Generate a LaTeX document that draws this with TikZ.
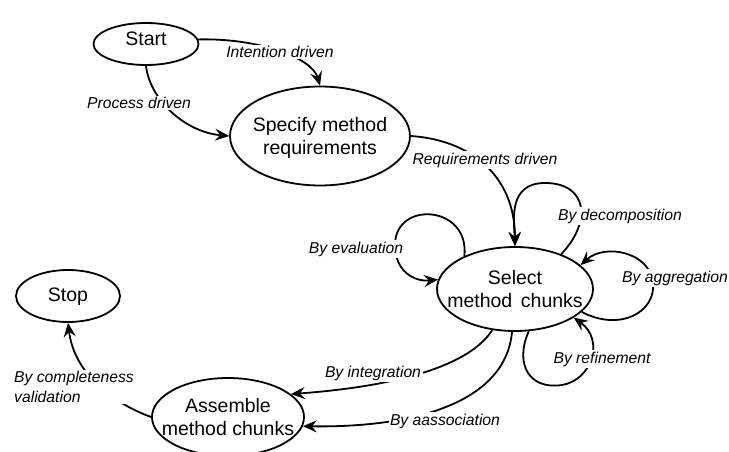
\documentclass[tikz,border=0pt]{standalone}
\usepackage{fontspec}
\setmainfont{Liberation Sans}
\usetikzlibrary{shapes.geometric,arrows.meta}
\begin{document}
\begin{tikzpicture}[x=1pt,y=-1pt,
  state/.style={draw, ellipse, line width=1.8pt, inner sep=0pt},
  stxt/.style={font=\fontsize{19.5}{22.5}\selectfont, align=center, inner sep=0pt},
  lbl/.style={font=\fontsize{15.7}{20}\selectfont\itshape, fill=white, inner sep=1.5pt},
  conn/.style={line width=1.8pt, -{Stealth[length=14pt,width=12pt,inset=5pt]}}
]
\useasboundingbox (0,0) rectangle (729,452);
\fill[white] (0,0) rectangle (729,452);

% states
\node[state, minimum width=105pt, minimum height=42pt] (start) at (146,44) {};
\node[stxt] (start-t) at (146,39) {Start};
\node[state, minimum width=180pt, minimum height=99pt] (spec) at (320,136) {};
\node[stxt] (spec-t) at (320,138) {Specify method\\requirements};
\node[state, minimum width=156pt, minimum height=84pt] (sel) at (515,289) {};
\node[stxt] (sel-t) at (515,289) {Select\\method\ \,chunks};
\node[state, minimum width=104pt, minimum height=52pt] (stop) at (68,296) {};
\node[stxt] (stop-t) at (68,297) {Stop};
\node[state, minimum width=152pt, minimum height=78pt] (assem) at (228,417) {};
\node[stxt] (assem-t) at (228,417) {Assemble\\method chunks};

% connectors
\draw[conn] (start.5) .. controls (260,38) and (312,58) .. (spec.north);
\draw[conn] (start.south) .. controls (150,100) and (185,132) .. (spec.west);
\draw[conn] (spec.east) .. controls (470,140) and (515,175) .. (sel.north);
\draw[conn] (sel.37) .. controls (592,222) and (588,183) .. (545,183)
            .. controls (508,183) and (514,220) .. (sel.north);
\draw[conn] (sel.147) .. controls (470,205) and (395,200) .. (395,245)
            .. controls (395,272) and (415,282) .. (sel.173);
\draw[conn] (sel.-19) .. controls (620,332) and (656,312) .. (653,283)
            .. controls (650,252) and (605,243) .. (sel.20);
\draw[conn] (sel.-72) .. controls (514,365) and (530,390) .. (562,385)
            .. controls (592,380) and (605,340) .. (sel.-26);
\draw[conn] (sel.-119) .. controls (470,365) and (400,386) .. (assem.20);
\draw[conn] (sel.-94) .. controls (506,400) and (420,428) .. (assem.-7);
\draw[conn] (assem.west) .. controls (110,402) and (74,372) .. (stop.south);

% labels
\node[lbl] (l-int) at (280,52) {Intention driven};
\node[lbl] (l-proc) at (139,103) {Process driven};
\node[lbl] (l-req) at (485,160) {Requirements driven};
\node[lbl] (l-dec) at (620,216) {By decomposition};
\node[lbl] (l-eval) at (356,249) {By evaluation};
\node[lbl] (l-agg) at (675,278) {By aggregation};
\node[lbl] (l-ref) at (602,359) {By refinement};
\node[lbl] (l-integ) at (373,373) {By integration};
\node[lbl] (l-assoc) at (445,421) {By aassociation};
\node[lbl, anchor=west, align=left] (l-comp) at (12.5,387) {By completeness\\validation};
\end{tikzpicture}
\end{document}
